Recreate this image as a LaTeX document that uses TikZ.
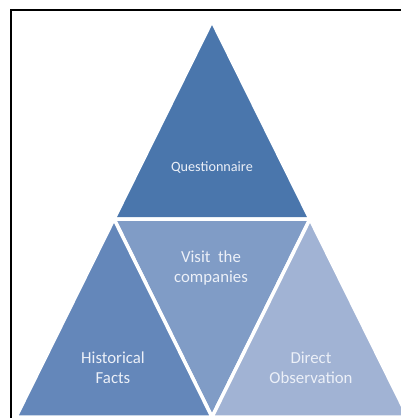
\documentclass[tikz,border=0pt]{standalone}
\usepackage{fontspec}
\setmainfont{Carlito}
\definecolor{topBlue}{RGB}{74,118,172}
\definecolor{leftBlue}{RGB}{100,135,186}
\definecolor{midBlue}{RGB}{128,156,198}
\definecolor{rightBlue}{RGB}{161,179,212}
\definecolor{labelWhite}{RGB}{236,240,248}
\begin{document}
\begin{tikzpicture}
[x=1pt,y=-1pt,%
  triDecorate/.style={draw=white,line width=3.5pt},%
  labelDecorate/.style={text=labelWhite,align=center,font=\fontsize{16.8}{20}\selectfont},%
  smallLabel/.style={labelDecorate,font=\fontsize{14.2}{16}\selectfont}]
\useasboundingbox (0,0) rectangle (401,418);
%% corner points
\foreach \pname/\x/\y in {a/212/21, b/114/219, c/310/219, d/16/417, e/212/417, f/408/417}
{
  \coordinate (\pname) at (\x,\y);
}
%% triangles
\begin{scope}
\clip (11,10) rectangle (401,418);
\foreach \p/\q/\r/\col in {a/b/c/topBlue, b/c/e/midBlue, b/d/e/leftBlue, c/e/f/rightBlue}
{
  \filldraw[triDecorate,fill=\col] (\p) -- (\q) -- (\r) -- cycle;
}
\end{scope}
%% labels
\node (questionnaire) at (212,168) [smallLabel] {Questionnaire};
\node (visit) at (211,268) [labelDecorate] {Visit\ \ the\\companies};
\node (historical) at (113,368) [labelDecorate] {Historical\\Facts};
\node (direct) at (311,368) [labelDecorate] {Direct\\Observation};
%% frame
\draw[gray!60,line width=2.4pt] (401,10) -| (11,418);
\draw[line width=1.4pt] (401,10) -| (11,418);
\end{tikzpicture}
\end{document}
